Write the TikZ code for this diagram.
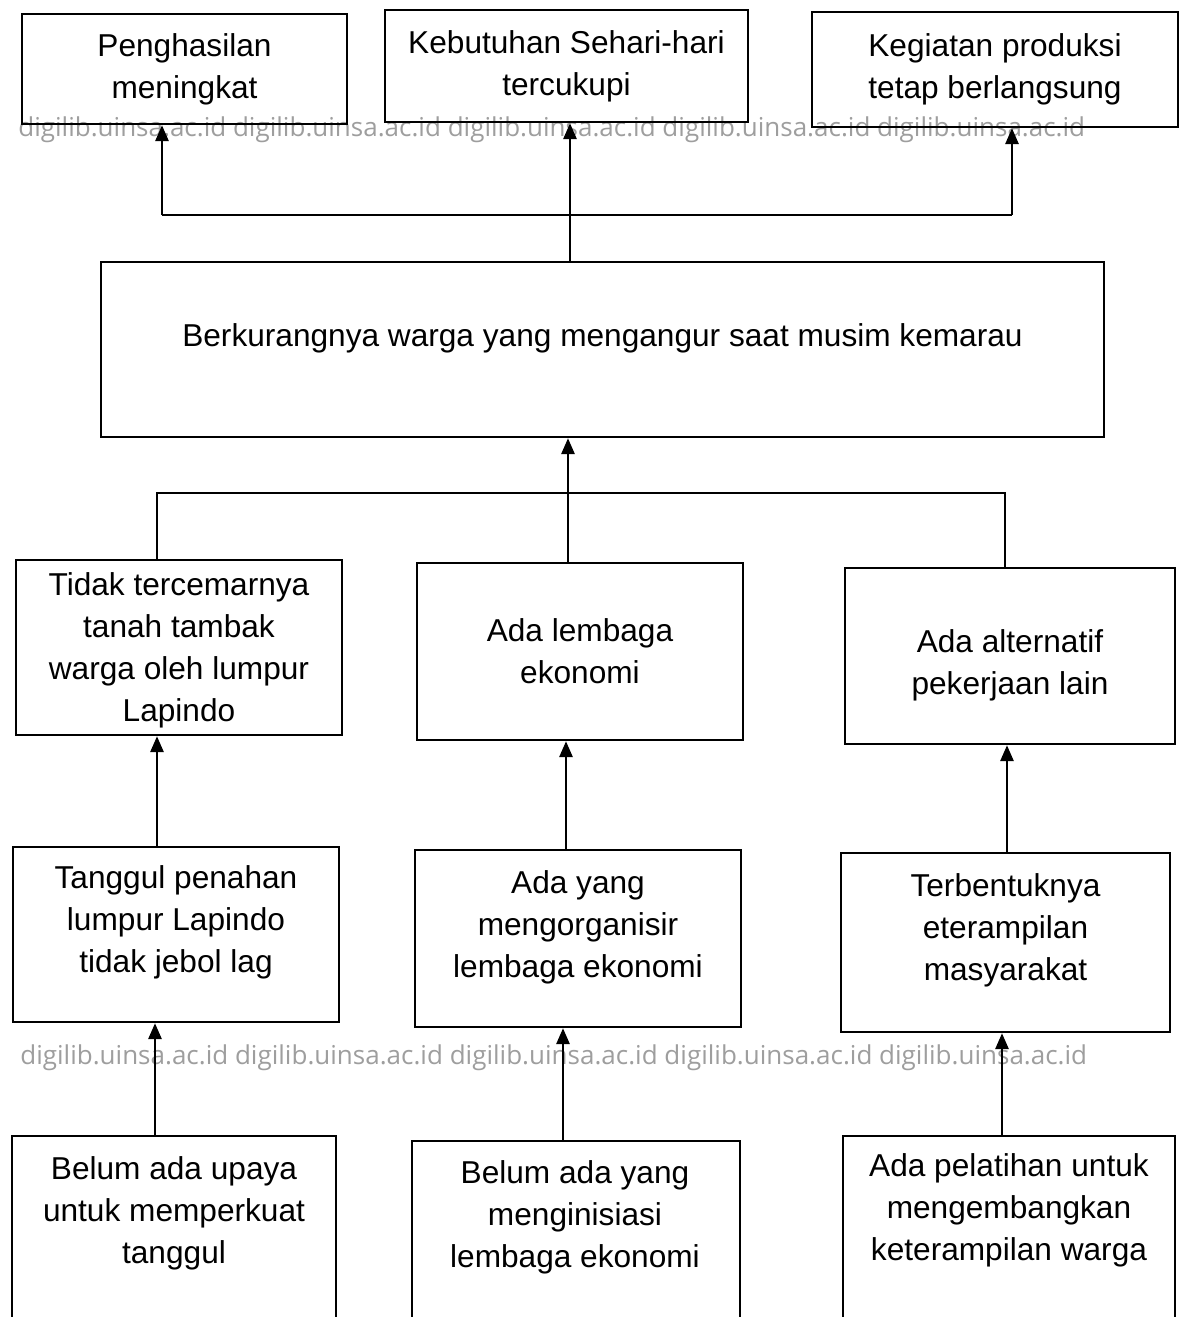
\documentclass[tikz,border=0pt]{standalone}
\usepackage{fontspec}
\setmainfont{Liberation Sans}
\newfontfamily\wmfont{Open Sans}
\usetikzlibrary{arrows.meta}
\tikzset{
  kotak/.style={draw, line width=1.3pt, align=center, inner sep=0pt,
    font=\fontsize{18}{23.9}\selectfont},
  isi/.style={align=center, inner sep=0pt, font=\fontsize{18}{23.9}\selectfont},
  panah/.style={line width=1.6pt, -{Triangle[length=0.32cm,width=0.26cm]}},
  garis/.style={line width=1.6pt},
  tanda/.style={anchor=west, inner sep=0pt, text=black!38,
    font=\wmfont\fontsize{14.8}{16}\selectfont}
}

\begin{document}
\begin{tikzpicture}
    \clip (0,0) rectangle (23.68,-26.34);
    \fill[white] (0,0) rectangle (23.68,-26.34);

    \node[tanda] (wm1) at (0.36,-2.6) {digilib.uinsa.ac.id digilib.uinsa.ac.id digilib.uinsa.ac.id digilib.uinsa.ac.id digilib.uinsa.ac.id};
    \node[tanda] (wm2) at (0.40,-21.16) {digilib.uinsa.ac.id digilib.uinsa.ac.id digilib.uinsa.ac.id digilib.uinsa.ac.id digilib.uinsa.ac.id};

    \node[kotak, minimum width=6.5cm, minimum height=2.2cm] (hasil) at (3.69,-1.38) {Penghasilan\\meningkat};
    \node[kotak, minimum width=7.26cm, minimum height=2.24cm] (butuh) at (11.33,-1.32) {Kebutuhan Sehari-hari\\tercukupi};
    \node[kotak, minimum width=7.32cm, minimum height=2.3cm] (produksi) at (19.9,-1.39) {Kegiatan produksi\\tetap berlangsung};

    \node[kotak, minimum width=20.06cm, minimum height=3.5cm] (utama) at (12.05,-6.99) {};
    \node[isi] (tutama) at ([yshift=0.22cm]utama.center) {Berkurangnya warga yang mengangur saat musim kemarau};

    \node[kotak, minimum width=6.52cm, minimum height=3.5cm] (tambak) at (3.58,-12.95) {};
    \node[kotak, minimum width=6.52cm, minimum height=3.54cm] (lembaga) at (11.6,-13.03) {Ada lembaga\\ekonomi};
    \node[kotak, minimum width=6.6cm, minimum height=3.52cm] (kerja) at (20.2,-13.12) {};
    \node[isi] (ttambak) at ([yshift=-0.06cm]tambak.center) {Tidak tercemarnya\\tanah tambak\\warga oleh lumpur\\Lapindo};
    \node[isi] (tkerja) at ([yshift=-0.18cm]kerja.center) {Ada alternatif\\pekerjaan lain};

    \node[kotak, minimum width=6.52cm, minimum height=3.5cm] (tanggul) at (3.52,-18.69) {};
    \node[kotak, minimum width=6.52cm, minimum height=3.54cm] (organisir) at (11.56,-18.77) {};
    \node[kotak, minimum width=6.58cm, minimum height=3.58cm] (terampil) at (20.11,-18.85) {};
    \node[isi] (ttanggul) at ([yshift=0.24cm]tanggul.center) {Tanggul penahan\\lumpur Lapindo\\tidak jebol lag};
    \node[isi] (torganisir) at ([yshift=0.22cm]organisir.center) {Ada yang\\mengorganisir\\lembaga ekonomi};
    \node[isi] (tterampil) at ([yshift=0.24cm]terampil.center) {Terbentuknya\\eterampilan\\masyarakat};

    \node[kotak, anchor=north, minimum width=6.48cm, minimum height=5cm] (upaya) at (3.48,-22.7) {};
    \node[kotak, anchor=north, minimum width=6.56cm, minimum height=5cm] (inisiasi) at (11.52,-22.8) {};
    \node[kotak, anchor=north, minimum width=6.64cm, minimum height=5cm] (latih) at (20.18,-22.7) {};
    \node[isi] (tupaya) at (3.48,-24.26) {Belum ada upaya\\untuk memperkuat\\tanggul};
    \node[isi] (tinisiasi) at (11.5,-24.34) {Belum ada yang\\menginisiasi\\lembaga ekonomi};
    \node[isi] (tlatih) at (20.18,-24.2) {Ada pelatihan untuk\\mengembangkan\\keterampilan warga};

    \coordinate (a1) at (3.24,-4.3);
    \coordinate (a2) at (11.4,-4.3);
    \coordinate (a3) at (20.24,-4.3);
    \draw[garis] (a1) -- (a3);
    \draw[panah] (a1) -- (a1 |- hasil.south);
    \draw[panah] (a2 |- utama.north) -- (a2 |- butuh.south);
    \draw[panah] (a3) -- (a3 |- produksi.south);

    \coordinate (b1) at (3.14,-9.86);
    \coordinate (b2) at (11.36,-9.86);
    \coordinate (b3) at (20.1,-9.86);
    \draw[garis] (b1 |- tambak.north) -- (b1) -- (b3) -- (b3 |- kerja.north);
    \draw[panah] (b2 |- lembaga.north) -- (b2 |- utama.south);

    \coordinate (c1) at (3.14,0);
    \coordinate (c2) at (11.32,0);
    \coordinate (c3) at (20.14,0);
    \draw[panah] (c1 |- tanggul.north) -- (c1 |- tambak.south);
    \draw[panah] (c2 |- organisir.north) -- (c2 |- lembaga.south);
    \draw[panah] (c3 |- terampil.north) -- (c3 |- kerja.south);

    \coordinate (d1) at (3.1,0);
    \coordinate (d2) at (11.26,0);
    \coordinate (d3) at (20.04,0);
    \draw[panah] (d1 |- upaya.north) -- (d1 |- tanggul.south);
    \draw[panah] (d2 |- inisiasi.north) -- (d2 |- organisir.south);
    \draw[panah] (d3 |- latih.north) -- (d3 |- terampil.south);
\end{tikzpicture}
\end{document}
